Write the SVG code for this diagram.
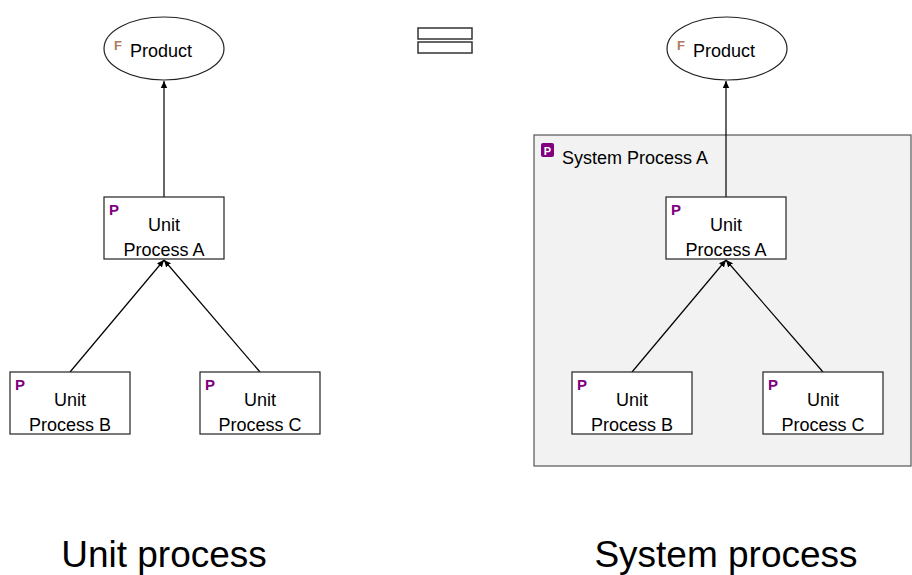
<svg xmlns="http://www.w3.org/2000/svg" width="912" height="575" viewBox="0 0 912 575">
<defs>
<marker id="ah" markerWidth="8" markerHeight="8" refX="7" refY="4" orient="auto" markerUnits="userSpaceOnUse">
<path d="M0,0.8 L7,4 L0,7.2 Z" fill="#000"/>
</marker>
<style>
.box{fill:#fff;stroke:#222;stroke-width:1.2}
.ell{fill:#fff;stroke:#222;stroke-width:1.2}
.t{font-family:"Liberation Sans",Arial,sans-serif;font-size:18px;fill:#000}
.c{text-anchor:middle}
.p{font-family:"Liberation Sans",Arial,sans-serif;font-size:15px;font-weight:bold;fill:#800080}
.f{font-family:"Liberation Sans",Arial,sans-serif;font-size:13px;font-weight:bold;fill:#b07a60}
.big{font-family:"Liberation Sans",Arial,sans-serif;font-size:37px;fill:#000;text-anchor:middle}
.ln{stroke:#000;stroke-width:1.2;fill:none;marker-end:url(#ah)}
</style>
</defs>
<rect width="912" height="575" fill="#fff"/>

<g id="system-process-a">
<rect x="534" y="135" width="377" height="331" fill="#f2f2f2" stroke="#555" stroke-width="1.2"/>
<rect x="541" y="143" width="13" height="14" rx="2" fill="#800080"/>
<text x="547.5" y="155" font-family="Liberation Sans,Arial,sans-serif" font-size="11" font-weight="bold" fill="#fff" text-anchor="middle">P</text>
<text class="t" x="562" y="164">System Process A</text>
</g>

<g id="equals">
<rect x="418" y="28" width="54" height="11" fill="#fff" stroke="#333" stroke-width="1.5"/>
<rect x="418" y="42" width="54" height="11" fill="#fff" stroke="#333" stroke-width="1.5"/>
</g>

<g id="connectors">
<line class="ln" x1="164" y1="197" x2="164" y2="81"/>
<line class="ln" x1="70" y1="372" x2="164" y2="260"/>
<line class="ln" x1="260" y1="372" x2="164" y2="260"/>
<line class="ln" x1="726" y1="197" x2="726" y2="81"/>
<line class="ln" x1="632" y1="372" x2="726" y2="260"/>
<line class="ln" x1="823" y1="372" x2="726" y2="260"/>
</g>

<g id="product-left">
<ellipse class="ell" cx="164" cy="48.5" rx="60" ry="31.5"/>
<text class="f" x="114" y="50">F</text>
<text class="t" x="130" y="57">Product</text>
</g>
<g id="unit-a-left">
<rect class="box" x="104" y="197" width="120" height="62"/>
<text class="p" x="109" y="215">P</text>
<text class="t c" x="164" y="231">Unit</text>
<text class="t c" x="164" y="256">Process A</text>
</g>
<g id="unit-b-left">
<rect class="box" x="10" y="372" width="120" height="62"/>
<text class="p" x="15" y="390">P</text>
<text class="t c" x="70" y="406">Unit</text>
<text class="t c" x="70" y="431">Process B</text>
</g>
<g id="unit-c-left">
<rect class="box" x="200" y="372" width="120" height="62"/>
<text class="p" x="205" y="390">P</text>
<text class="t c" x="260" y="406">Unit</text>
<text class="t c" x="260" y="431">Process C</text>
</g>

<g id="product-right">
<ellipse class="ell" cx="727" cy="48.5" rx="60" ry="31.5"/>
<text class="f" x="677" y="50">F</text>
<text class="t" x="693" y="57">Product</text>
</g>
<g id="unit-a-right">
<rect class="box" x="666" y="197" width="120" height="62"/>
<text class="p" x="671" y="215">P</text>
<text class="t c" x="726" y="231">Unit</text>
<text class="t c" x="726" y="256">Process A</text>
</g>
<g id="unit-b-right">
<rect class="box" x="572" y="372" width="120" height="62"/>
<text class="p" x="577" y="390">P</text>
<text class="t c" x="632" y="406">Unit</text>
<text class="t c" x="632" y="431">Process B</text>
</g>
<g id="unit-c-right">
<rect class="box" x="763" y="372" width="120" height="62"/>
<text class="p" x="768" y="390">P</text>
<text class="t c" x="823" y="406">Unit</text>
<text class="t c" x="823" y="431">Process C</text>
</g>

<text class="big" x="164" y="567">Unit process</text>
<text class="big" x="726" y="567">System process</text>
</svg>
